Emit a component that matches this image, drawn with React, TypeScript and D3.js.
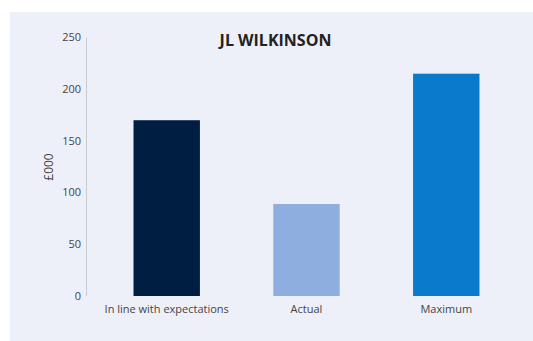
import React from "react";
import * as d3 from "d3";

const categories = ["In line with expectations", "Actual", "Maximum"];
const values = [170, 89, 215];
const barColors = ["#001e42", "#8eaee0", "#0a7bcc"];
const yTicks = [0, 50, 100, 150, 200, 250];
const title = "JL WILKINSON";
const yLabel = "£000";

export default function App() {
  const W = 533;
  const H = 341;
  const x = d3
    .scaleBand<string>()
    .domain(categories)
    .range([86, 527])
    .paddingInner(0.525)
    .paddingOuter(0.34);
  const y = d3.scaleLinear().domain([0, 250]).range([296, 37.5]);
  const font = "'Open Sans', 'Noto Sans', sans-serif";

  return (
    <svg
      width={W}
      height={H}
      style={{ position: "absolute", left: 0, top: 0 }}
      fontFamily={font}
    >
      <rect x={0} y={0} width={W} height={H} fill="#ffffff" />
      <rect x={10} y={12} width={523} height={329} fill="#eef0f9" />
      <line x1={86.5} x2={86.5} y1={y(250)} y2={y(0)} stroke="#c8cad2" strokeWidth={1} />
      {yTicks.map((t) => (
        <text
          key={t}
          x={81}
          y={y(t)}
          dy="0.35em"
          textAnchor="end"
          fontSize={11}
          fill="#444"
        >
          {t}
        </text>
      ))}
      {categories.map((c, i) => (
        <rect
          key={c}
          x={x(c)}
          y={y(values[i])}
          width={x.bandwidth()}
          height={y(0) - y(values[i])}
          fill={barColors[i]}
        />
      ))}
      {categories.map((c) => (
        <text
          key={c + "-l"}
          x={(x(c) as number) + x.bandwidth() / 2}
          y={309}
          dy="0.35em"
          textAnchor="middle"
          fontSize={11}
          fill="#444"
        >
          {c}
        </text>
      ))}
      <text
        x={49}
        y={167}
        transform="rotate(-90 49 167)"
        textAnchor="middle"
        dy="0.35em"
        fontSize={12}
        fill="#444"
      >
        {yLabel}
      </text>
      <text
        x={275.5}
        y={40}
        dy="0.35em"
        textAnchor="middle"
        fontSize={16}
        fontWeight="bold"
        fill="#222"
      >
        {title}
      </text>
    </svg>
  );
}
